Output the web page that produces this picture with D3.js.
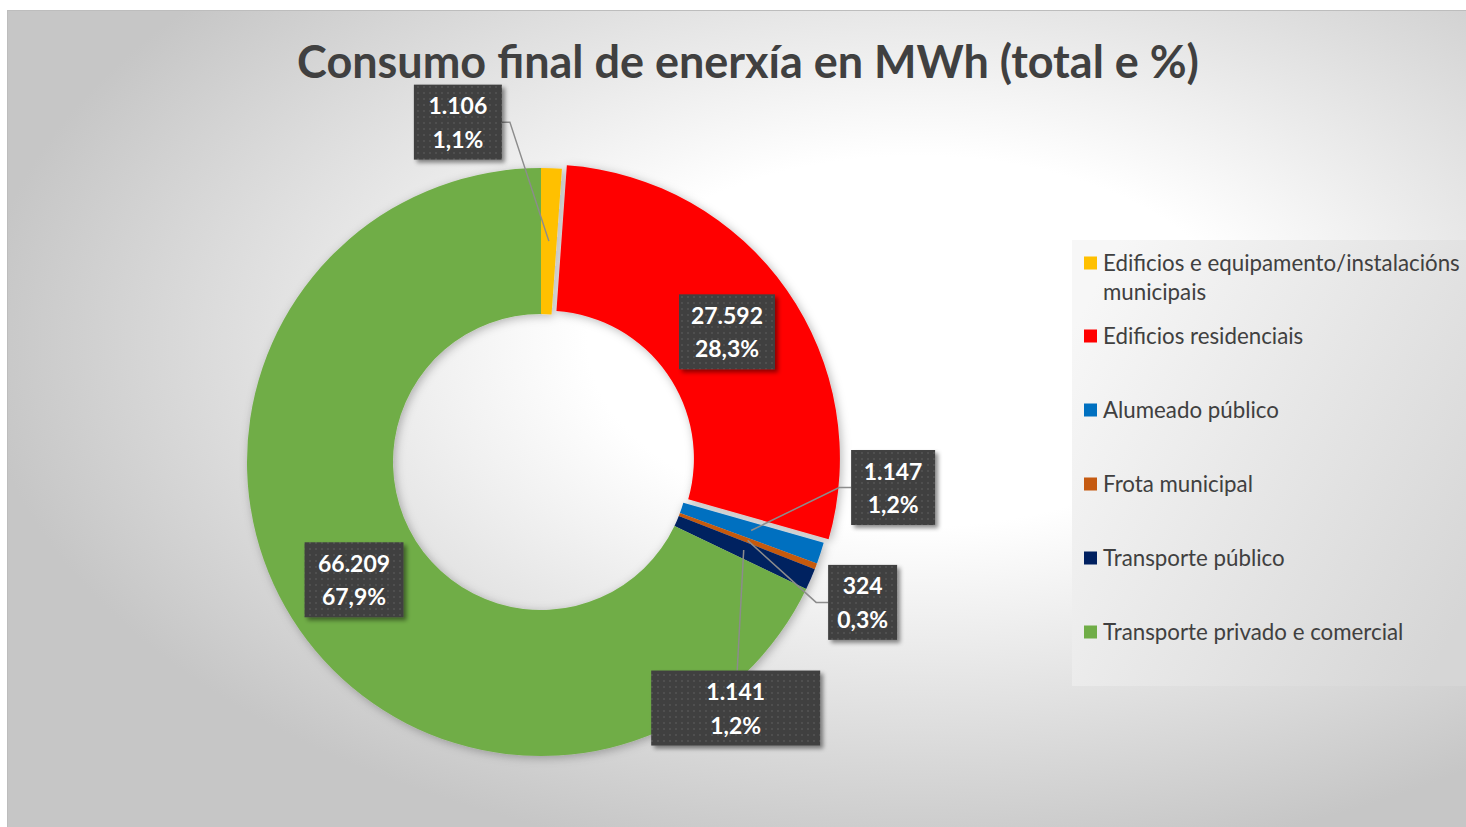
<!DOCTYPE html>
<html>
<head>
<meta charset="utf-8">
<script src="https://cdn.jsdelivr.net/npm/d3@7"></script>
<style>
	html, body { margin: 0; padding: 0; background: #fff; }
	svg { display: block; }
</style>
</head>
<body>
<div id="chart"></div>
<script>
(function () {
	'use strict';

	// data
	var categories = [
		"Edificios e equipamento/instalacións municipais",
		"Edificios residenciais",
		"Alumeado público",
		"Frota municipal",
		"Transporte público",
		"Transporte privado e comercial"
	];
	var values = [1106, 27592, 1147, 324, 1141, 66209];
	var colors = ["#FFC000", "#FF0000", "#0070C0", "#C55A11", "#002060", "#70AD47"];
	var legendLines = [
		["Edificios e equipamento/instalacións", "municipais"],
		["Edificios residenciais"],
		["Alumeado público"],
		["Frota municipal"],
		["Transporte público"],
		["Transporte privado e comercial"]
	];
	var title = "Consumo final de enerxía en MWh (total e %)";

	// label layout (offset of box centre from slice centroid, box width, leader side)
	var labelOffset = [[-91, -119], [0, 0], [142, -43], [115, 62], [-8, 158], [0, 0]];
	var labelWidth = [88, 96, 84, 69, 169, 99];
	var labelAttach = ["right", null, "left", "left", "top", null];
	var explode = [0, 6, 0, 0, 0, 0];

	var width = 1466, height = 827;
	var cx = 541, cy = 462, outerR = 294, innerR = 148;

	var loc = d3.formatLocale({decimal: ",", thousands: ".", grouping: [3], currency: ["", " €"]});
	var fmtNum = loc.format(",d");
	var fmtPct = loc.format(".1%");
	var total = d3.sum(values);

	var svg = d3.select("#chart").append("svg")
		.attr("width", width)
		.attr("height", height);

	var defs = svg.append("defs");

	var bg = defs.append("radialGradient")
		.attr("id", "bgGrad")
		.attr("cx", 0.62).attr("cy", 0.40).attr("r", 0.64);
	bg.append("stop").attr("offset", "0").attr("stop-color", "#ffffff");
	bg.append("stop").attr("offset", "0.35").attr("stop-color", "#ffffff");
	bg.append("stop").attr("offset", "1").attr("stop-color", "#c6c6c6");

	var lg = defs.append("linearGradient")
		.attr("id", "legGrad")
		.attr("x1", 0).attr("y1", 0.2).attr("x2", 1).attr("y2", 0.8);
	lg.append("stop").attr("offset", "0").attr("stop-color", "#f7f7f7");
	lg.append("stop").attr("offset", "1").attr("stop-color", "#d6d6d6");

	var pat = defs.append("pattern")
		.attr("id", "dots")
		.attr("patternUnits", "userSpaceOnUse")
		.attr("width", 6).attr("height", 6);
	pat.append("rect").attr("width", 6).attr("height", 6).attr("fill", "#404040");
	pat.append("rect").attr("x", 2).attr("y", 2).attr("width", 2).attr("height", 2).attr("fill", "#505050");

	var sh = defs.append("filter").attr("id", "pieShadow")
		.attr("x", "-20%").attr("y", "-20%").attr("width", "140%").attr("height", "140%");
	sh.append("feDropShadow").attr("dx", 2).attr("dy", 2).attr("stdDeviation", 5)
		.attr("flood-color", "#000").attr("flood-opacity", 0.28);

	var bsh = defs.append("filter").attr("id", "boxShadow")
		.attr("x", "-20%").attr("y", "-20%").attr("width", "140%").attr("height", "140%");
	bsh.append("feDropShadow").attr("dx", 3).attr("dy", 3).attr("stdDeviation", 2)
		.attr("flood-color", "#000").attr("flood-opacity", 0.45);

	// chart area
	svg.append("rect")
		.attr("x", 7.5).attr("y", 10.5)
		.attr("width", width).attr("height", height)
		.attr("fill", "url(#bgGrad)")
		.attr("stroke", "#bdbdbd")
		.attr("stroke-width", 1);

	// title, fitted to the width seen in the reference
	var titleText = svg.append("text")
		.attr("x", 748).attr("y", 78)
		.attr("text-anchor", "middle")
		.attr("font-family", "Lato, 'Open Sans', sans-serif")
		.attr("font-weight", "bold")
		.attr("font-size", 42)
		.attr("fill", "#404040")
		.text(title);
	fitSize(titleText, 902);

	// donut
	var pie = d3.pie().sort(null).value(function(d){ return d; });
	var arcs = pie(values);
	var arc = d3.arc().innerRadius(innerR).outerRadius(outerR);

	function shift(d, i) {
		var a = (d.startAngle + d.endAngle) / 2;
		return [explode[i] * Math.sin(a), -explode[i] * Math.cos(a)];
	}

	var g = svg.append("g")
		.attr("transform", "translate(" + cx + "," + cy + ")")
		.attr("filter", "url(#pieShadow)");

	g.selectAll("path")
		.data(arcs)
		.enter()
			.append("path")
			.attr("d", arc)
			.attr("fill", function(d, i){ return colors[i]; })
			.attr("transform", function(d, i){ return "translate(" + shift(d, i) + ")"; });

	// legend
	var legend = svg.append("g");
	legend.append("rect")
		.attr("x", 1072).attr("y", 240)
		.attr("width", 400).attr("height", 446)
		.attr("fill", "url(#legGrad)");

	var rowY = [263, 336, 410, 484, 558, 632];
	var legendFont = 20;
	var probe = legend.append("text")
		.attr("font-family", "Lato, 'Open Sans', sans-serif")
		.attr("font-size", legendFont)
		.text(legendLines[0][0]);
	legendFont = legendFont * 357 / probe.node().getComputedTextLength();
	probe.remove();

	var items = legend.selectAll("g.item")
		.data(categories)
		.enter()
			.append("g")
			.attr("class", "item")
			.attr("transform", function(d, i){ return "translate(1084," + rowY[i] + ")"; });

	items.append("rect")
		.attr("x", 0).attr("y", -6.5)
		.attr("width", 13).attr("height", 13)
		.attr("fill", function(d, i){ return colors[i]; });

	items.each(function(d, i) {
		var t = d3.select(this).append("text")
			.attr("x", 19)
			.attr("y", 0)
			.attr("font-family", "Lato, 'Open Sans', sans-serif")
			.attr("font-size", legendFont)
			.attr("fill", "#404040");
		legendLines[i].forEach(function(line, k) {
			t.append("tspan")
				.attr("x", 19)
				.attr("y", k * 29)
				.attr("dy", "0.35em")
				.text(line);
		});
	});

	// data labels
	var labels = svg.append("g").attr("transform", "translate(" + cx + "," + cy + ")");
	var labelFont = 24;
	var probe2 = labels.append("text")
		.attr("font-family", "Lato, 'Open Sans', sans-serif")
		.attr("font-weight", "bold")
		.attr("font-size", labelFont)
		.text("66.209");
	labelFont = labelFont * 72 / probe2.node().getComputedTextLength();
	probe2.remove();

	arcs.forEach(function(d, i) {
		var s = shift(d, i);
		var c = arc.centroid(d);
		var px = c[0] + s[0], py = c[1] + s[1];
		var bx = px + labelOffset[i][0], by = py + labelOffset[i][1];
		var w = labelWidth[i], h = 75;

		if (labelAttach[i]) {
			var pts;
			if (labelAttach[i] === "right") {
				pts = [[px, py], [bx + w / 2 + 8, by], [bx + w / 2, by]];
			} else if (labelAttach[i] === "left") {
				pts = [[px, py], [bx - w / 2 - 12, by], [bx - w / 2, by]];
			} else {
				pts = [[px, py], [bx + 1.5, by - h / 2]];
			}
			labels.append("path")
				.attr("d", d3.line()(pts))
				.attr("fill", "none")
				.attr("stroke", "#8c8c8c")
				.attr("stroke-width", 1.5);
		}

		labels.append("rect")
			.attr("x", bx - w / 2).attr("y", by - h / 2)
			.attr("width", w).attr("height", h)
			.attr("fill", "url(#dots)")
			.attr("filter", "url(#boxShadow)");

		var t = labels.append("text")
			.attr("text-anchor", "middle")
			.attr("font-family", "Lato, 'Open Sans', sans-serif")
			.attr("font-weight", "bold")
			.attr("font-size", labelFont)
			.attr("fill", "#ffffff");
		t.append("tspan").attr("x", bx).attr("y", by - 16).attr("dy", "0.35em").text(fmtNum(values[i]));
		t.append("tspan").attr("x", bx).attr("y", by + 17.5).attr("dy", "0.35em").text(fmtPct(values[i] / total));
	});

	function fitSize(sel, target) {
		var w = sel.node().getComputedTextLength();
		var fs = parseFloat(sel.attr("font-size"));
		sel.attr("font-size", fs * target / w);
	}
}());
</script>
</body>
</html>
